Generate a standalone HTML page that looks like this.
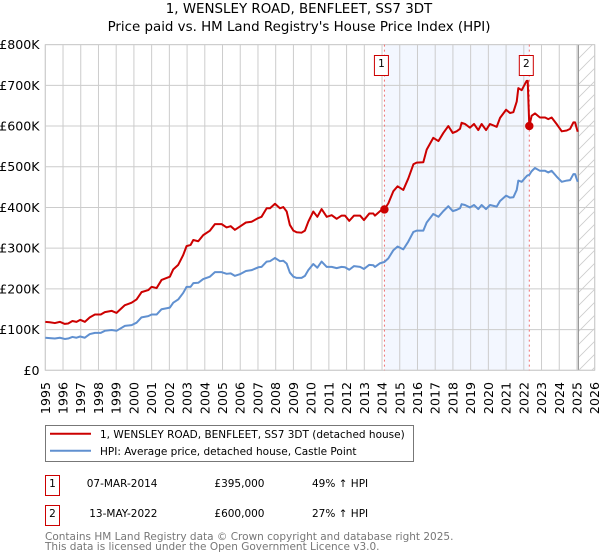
<!DOCTYPE html>
<html lang="en">
<head>
<meta charset="utf-8">
<title>1, WENSLEY ROAD, BENFLEET, SS7 3DT</title>
<style>
html,body{margin:0;padding:0;background:#fff;}
svg{display:block;}
text{font-family:"DejaVu Sans","Liberation Sans",sans-serif;font-size:10.5px;fill:#000;}
.head{font-size:13.4px;}
.tick{font-size:12.6px;}
.foot{fill:#777;}
</style>
</head>
<body>
<svg id="chart" width="600" height="560" viewBox="0 0 600 560" xmlns="http://www.w3.org/2000/svg">
<defs>
<pattern id="hatch" patternUnits="userSpaceOnUse" width="13" height="13">
<path d="M-1 14L14 -1M-1 1L1 -1M12 14L14 12" stroke="#ccc" stroke-width="0.8" fill="none"/>
</pattern>
</defs>
<text class="head" x="299" y="13" text-anchor="middle">1, WENSLEY ROAD, BENFLEET, SS7 3DT</text>
<text class="head" x="299" y="31" text-anchor="middle">Price paid vs. HM Land Registry's House Price Index (HPI)</text>
<g id="plot"></g>
<g>
<rect x="45.5" y="425.5" width="368" height="36" fill="#fff" stroke="#777" stroke-width="1"/>
<line x1="50" x2="91" y1="433.7" y2="433.7" stroke="#cc0000" stroke-width="2"/>
<text x="100" y="438">1, WENSLEY ROAD, BENFLEET, SS7 3DT (detached house)</text>
<line x1="50" x2="91" y1="450.7" y2="450.7" stroke="#6090d0" stroke-width="2"/>
<text x="100" y="455">HPI: Average price, detached house, Castle Point</text>
</g>
<g>
<rect x="45.5" y="475.5" width="14" height="20" fill="#fff" stroke="#c00" stroke-width="1"/>
<text x="52.5" y="487" text-anchor="middle">1</text>
<text x="157.5" y="487" text-anchor="end">07-MAR-2014</text>
<text x="264.5" y="487" text-anchor="end">£395,000</text>
<text x="312" y="487">49% ↑ HPI</text>
<rect x="45.5" y="505.5" width="14" height="20" fill="#fff" stroke="#c00" stroke-width="1"/>
<text x="52.5" y="517" text-anchor="middle">2</text>
<text x="157.5" y="517" text-anchor="end">13-MAY-2022</text>
<text x="264.5" y="517" text-anchor="end">£600,000</text>
<text x="312" y="517">27% ↑ HPI</text>
</g>
<text class="foot" x="45" y="540">Contains HM Land Registry data © Crown copyright and database right 2025.</text>
<text class="foot" x="45" y="550">This data is licensed under the Open Government Licence v3.0.</text>
</svg>
<script>
const yearTicks = [1995,1996,1997,1998,1999,2000,2001,2002,2003,2004,2005,2006,2007,2008,2009,2010,2011,2012,2013,2014,2015,2016,2017,2018,2019,2020,2021,2022,2023,2024,2025,2026];
const priceTicks = [0,100,200,300,400,500,600,700,800];
const priceTickLabels = ["£0","£100K","£200K","£300K","£400K","£500K","£600K","£700K","£800K"];
const dates = [1995,1995.25,1995.54,1995.82,1996.1,1996.29,1996.53,1996.76,1996.97,1997.23,1997.51,1997.8,1998.13,1998.36,1998.74,1999.02,1999.49,1999.87,2000.15,2000.43,2000.81,2001,2001.28,2001.56,2002.03,2002.22,2002.5,2002.78,2002.97,2003.2,2003.35,2003.63,2003.91,2004.29,2004.57,2004.95,2005.23,2005.46,2005.7,2005.98,2006.32,2006.64,2007.02,2007.2,2007.49,2007.68,2007.96,2008.24,2008.43,2008.62,2008.8,2009,2009.18,2009.46,2009.65,2009.84,2010.12,2010.35,2010.59,2010.88,2011.16,2011.44,2011.72,2011.91,2012.15,2012.42,2012.76,2012.98,2013.28,2013.51,2013.6,2013.89,2014.13,2014.355,2014.64,2014.88,2015.2,2015.48,2015.77,2015.95,2016.33,2016.52,2016.89,2017.18,2017.46,2017.74,2017.99,2018.21,2018.4,2018.49,2018.68,2018.96,2019.19,2019.43,2019.62,2019.87,2020.09,2020.47,2020.66,2021,2021.22,2021.41,2021.6,2021.69,2021.88,2022.16,2022.22,2022.31,2022.44,2022.63,2022.91,2023.2,2023.38,2023.57,2023.85,2024.14,2024.42,2024.61,2024.8,2024.89,2025.04];
const pricePaid = [119,118,116,119,114,115,121,119,124,119,130,137,137,143,146,141,160,166,174,192,197,205,202,222,230,248,259,283,305,308,320,317,332,343,359,359,351,354,345,353,363,365,374,377,398,398,409,398,401,390,357,343,339,338,343,365,390,377,396,377,381,372,380,380,367,380,380,369,385,385,380,391,395,410,440,452,443,471,506,510,511,542,571,563,583,600,583,587,593,608,605,596,605,590,605,590,605,598,620,640,632,634,660,693,688,711,711,600,625,631,621,621,617,621,605,587,589,593,609,609,586];
const hpiIndex = [80,79,78,80,77,78,82,80,83,80,89,92,92,97,99,97,109,111,117,130,133,137,137,150,154,166,174,190,205,205,214,215,224,230,241,241,237,238,232,236,244,246,253,254,267,268,276,268,269,262,240,230,227,227,232,246,261,252,267,254,254,251,254,253,247,256,254,249,259,258,254,263,266,275,295,304,297,316,340,343,343,363,384,377,391,403,391,394,398,408,406,400,406,396,406,396,406,402,416,429,424,425,443,466,463,477,479,480,489,497,490,490,486,490,476,463,466,467,482,482,463];
const saleDates = [2014.135,2022.31];
const salePrices = [395,600];
const saleLabels = ["1","2"];
const dataEndDate = 2025.08;

const NS = "http://www.w3.org/2000/svg";
const plot = document.getElementById("plot");
const left = 45.3, right = 594.7, top0 = 44.6, bottom = 370.3;
function xScale(year){ return left + (year - yearTicks[0]) / (yearTicks[yearTicks.length-1] - yearTicks[0]) * (right - left); }
function yScale(value){ return bottom - value / priceTicks[priceTicks.length-1] * (bottom - top0); }
function make(tag, attrs){
  const el = document.createElementNS(NS, tag);
  for (const k in attrs) el.setAttribute(k, attrs[k]);
  plot.appendChild(el);
  return el;
}

const shade = make("rect", {x:xScale(saleDates[0]), y:top0, width:xScale(saleDates[1])-xScale(saleDates[0]), height:bottom-top0, fill:"#f3f7ff"});



yearTicks.forEach(function(yr){
  const g = make("line", {x1:xScale(yr), x2:xScale(yr), y1:top0, y2:bottom, stroke:"#ccc", "stroke-width":1});
  
  
  const t = make("text", {class:"tick", x:0, y:0, "text-anchor":"end", transform:"translate("+(xScale(yr)+4.5)+",382) rotate(-90)"});
  t.textContent = yr;
  
  
});
priceTicks.forEach(function(v,i){
  const g = make("line", {x1:left, x2:right, y1:yScale(v), y2:yScale(v), stroke:"#ccc", "stroke-width":1});
  
  
  const t = make("text", {class:"tick", x:39.5, y:yScale(v)+4.5, "text-anchor":"end"});
  t.textContent = priceTickLabels[i];
  
  
});

const hatch = make("rect", {x:xScale(dataEndDate), y:top0, width:right-xScale(dataEndDate), height:bottom-top0, fill:"url(#hatch)"});


const endLine = make("line", {x1:xScale(dataEndDate), x2:xScale(dataEndDate), y1:top0, y2:bottom, stroke:"#999", "stroke-width":1.2});


const border = make("rect", {x:left, y:top0, width:right-left, height:bottom-top0, fill:"none", stroke:"#ccc", "stroke-width":1});



saleDates.forEach(function(d){
  const v = make("line", {x1:xScale(d), x2:xScale(d), y1:top0, y2:bottom, stroke:"#f07070", "stroke-width":1, "stroke-dasharray":"2 3"});
  
  
});

function linePath(values){
  return values.map(function(v,i){ return (i?"L":"M") + xScale(dates[i]).toFixed(2) + " " + yScale(v).toFixed(2); }).join("");
}
const hpiLine = make("path", {d:linePath(hpiIndex), fill:"none", stroke:"#6090d0", "stroke-width":2, "stroke-linejoin":"round"});


const paidLine = make("path", {d:linePath(pricePaid), fill:"none", stroke:"#cc0000", "stroke-width":2, "stroke-linejoin":"round"});



saleDates.forEach(function(d,i){
  const c = make("circle", {cx:xScale(d), cy:yScale(salePrices[i]), r:4.2, fill:"#cc0000"});
  
  
  const box = make("rect", {x:xScale(d)-10, y:55.5, width:14, height:20, fill:"#fff", stroke:"#c00", "stroke-width":1});
  
  
  const t = make("text", {x:xScale(d)-3, y:67, "text-anchor":"middle"});
  t.textContent = saleLabels[i];
  
  
});
</script>
</body>
</html>
